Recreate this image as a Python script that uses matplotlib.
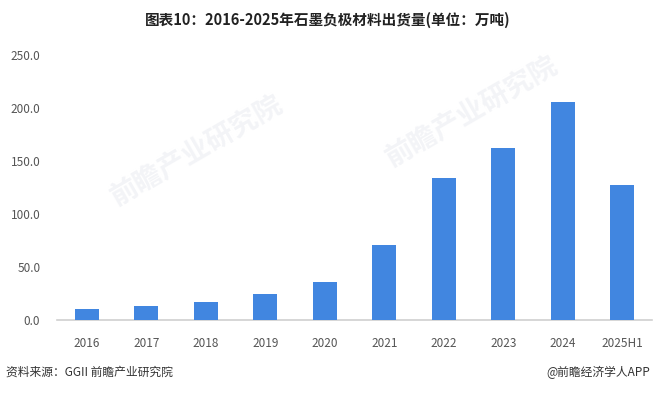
import matplotlib.pyplot as plt

plt.rcParams['font.family'] = ['Noto Sans CJK SC', 'DejaVu Sans']

# data (万吨)
years = ['2016', '2017', '2018', '2019', '2020', '2021', '2022', '2023', '2024', '2025H1']
shipments = [10.5, 13.2, 16.9, 24.4, 35.7, 70.5, 134.4, 162.6, 205.8, 126.9]
yticks = [0, 50, 100, 150, 200, 250]

fig = plt.figure(figsize=(6.55, 3.95), dpi=100)
ax = fig.add_axes([57 / 655, 75 / 395, 595 / 655, 265 / 395])

# faint watermarks like the original
for wx, wy in [(0.30, 0.62), (0.72, 0.72)]:
    fig.text(wx, wy, '前瞻产业研究院', fontsize=20, color='#f3f4f7',
             rotation=30, ha='center', va='center', fontweight='bold', zorder=0)

ax.bar(range(len(years)), shipments, width=0.4, color='#4186E0', zorder=3)

ax.set_xlim(-0.5, len(years) - 0.5)
ax.set_ylim(0, 250)
ax.set_yticks(yticks)
ax.set_yticklabels([f'{v:.1f}' for v in yticks])
ax.set_xticks(range(len(years)))
ax.set_xticklabels(years)
ax.tick_params(axis='both', length=0, labelsize=8.5, colors='#555555')
ax.tick_params(axis='x', pad=12)
ax.tick_params(axis='y', pad=12)

for side in ['top', 'right', 'left']:
    ax.spines[side].set_visible(False)
ax.spines['bottom'].set_color('#d0d0d0')
ax.spines['bottom'].set_linewidth(1.2)
ax.patch.set_alpha(0)

fig.text(0.5, 1 - 20 / 395, '图表10：2016-2025年石墨负极材料出货量(单位：万吨)',
         ha='center', va='center', fontsize=10.5, fontweight='bold', color='#222222')
fig.text(6 / 655, 1 - 372 / 395, '资料来源：GGII 前瞻产业研究院',
         ha='left', va='center', fontsize=8.5, color='#333333')
fig.text(650 / 655, 1 - 372 / 395, '@前瞻经济学人APP',
         ha='right', va='center', fontsize=8.5, color='#333333')

fig.savefig('out.png', dpi=100)
